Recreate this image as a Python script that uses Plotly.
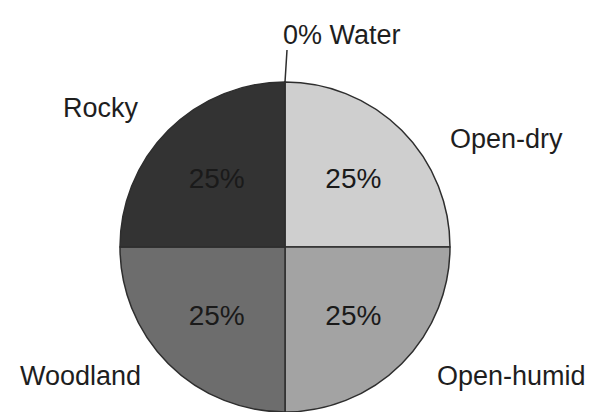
import plotly.graph_objects as go

labels = ["Water", "Open-dry", "Open-humid", "Woodland", "Rocky"]
values = [0, 25, 25, 25, 25]
colors = ["#ffffff", "#cfcfcf", "#a3a3a3", "#6d6d6d", "#333333"]
slice_text = ["", "25%", "25%", "25%", "25%"]

W, H = 594, 412
cx, cy, r = 285, 247, 165

fig = go.Figure()
fig.add_trace(go.Pie(
    labels=labels,
    values=values,
    text=slice_text,
    textinfo="text",
    textposition="inside",
    insidetextorientation="horizontal",
    insidetextfont=dict(family="Liberation Sans, Arial, sans-serif", size=28, color="#1a1a1a"),
    sort=False,
    direction="clockwise",
    rotation=0,
    marker=dict(colors=colors, line=dict(color="#2e2e2e", width=1.5)),
    domain=dict(x=[(cx - r) / W, (cx + r) / W], y=[1 - (cy + r) / H, 1 - (cy - r) / H]),
    showlegend=False,
    hoverinfo="label+percent",
))

outer = [
    ("0% Water", 342, 35),
    ("Rocky", 101, 108),
    ("Open-dry", 507, 139),
    ("Woodland", 80, 376),
    ("Open-humid", 511, 376),
]
for t, x, y in outer:
    fig.add_annotation(text=t, x=x / W, y=1 - y / H, xref="paper", yref="paper",
                       showarrow=False, xanchor="center", yanchor="middle",
                       font=dict(family="Liberation Sans, Arial, sans-serif", size=27, color="#1e1e1e"))

fig.add_shape(type="line", xref="paper", yref="paper",
              x0=287 / W, y0=1 - 50 / H, x1=cx / W, y1=1 - (cy - r) / H,
              line=dict(color="#2e2e2e", width=1.5))

fig.update_layout(width=W, height=H, margin=dict(l=0, r=0, t=0, b=0),
                  paper_bgcolor="white", plot_bgcolor="white")
fig.write_html("out.html")
